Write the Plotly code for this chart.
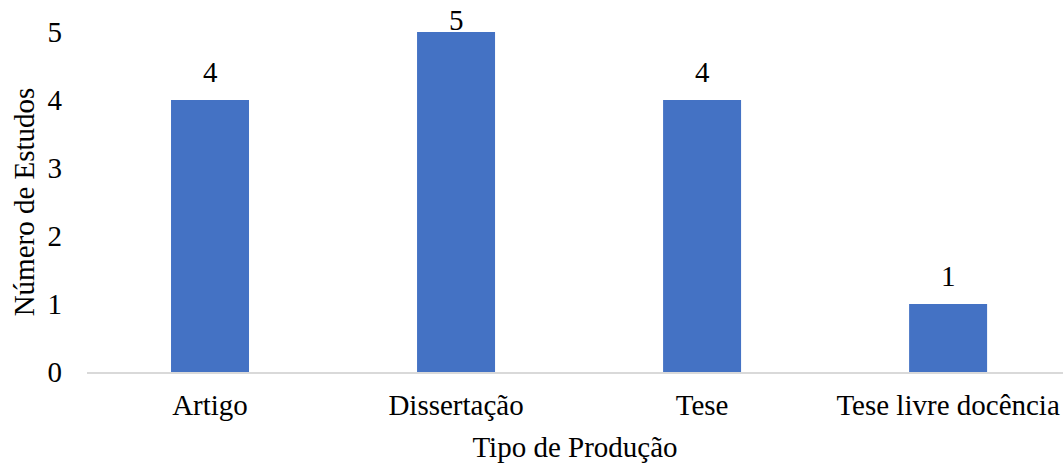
import plotly.graph_objects as go

categorias = ["Artigo", "Dissertação", "Tese", "Tese livre docência"]
estudos = [4, 5, 4, 1]

FONT = "Liberation Serif"
FS = 29
COR_BARRA = "#4472C4"
Y_MAX = 5

fig = go.Figure()
fig.add_trace(go.Bar(
    x=categorias,
    y=estudos,
    marker=dict(color=COR_BARRA, line=dict(width=0)),
    width=0.317,
    hoverinfo="skip",
))

# value labels above each bar (kept inside the canvas for the tallest bar)
for cat, val in zip(categorias, estudos):
    fig.add_annotation(
        x=cat, y=val, text=str(val), showarrow=False,
        yanchor="bottom", yshift=10 if val < Y_MAX else -6,
        font=dict(family=FONT, size=FS, color="#000000"),
    )

fig.update_layout(
    width=1063, height=463,
    margin=dict(l=87, r=0, t=32, b=91),
    paper_bgcolor="white", plot_bgcolor="white",
    showlegend=False,
    font=dict(family=FONT, size=FS, color="#000000"),
    xaxis=dict(
        range=[-0.5, 3.467],
        showline=True, linecolor="#d9d9d9", linewidth=2,
        ticks="", showgrid=False, zeroline=False,
        ticklabelstandoff=6,
        tickfont=dict(family=FONT, size=FS, color="#000000"),
        title=dict(text="Tipo de Produção", standoff=20,
                   font=dict(family=FONT, size=FS, color="#000000")),
    ),
    yaxis=dict(
        range=[0, Y_MAX], dtick=1,
        showline=False, showgrid=False, zeroline=False, ticks="",
        ticklabelstandoff=24,
        tickfont=dict(family=FONT, size=FS, color="#000000"),
        title=dict(text="Número de Estudos", standoff=4,
                   font=dict(family=FONT, size=FS, color="#000000")),
    ),
)

fig.write_html("out.html")
